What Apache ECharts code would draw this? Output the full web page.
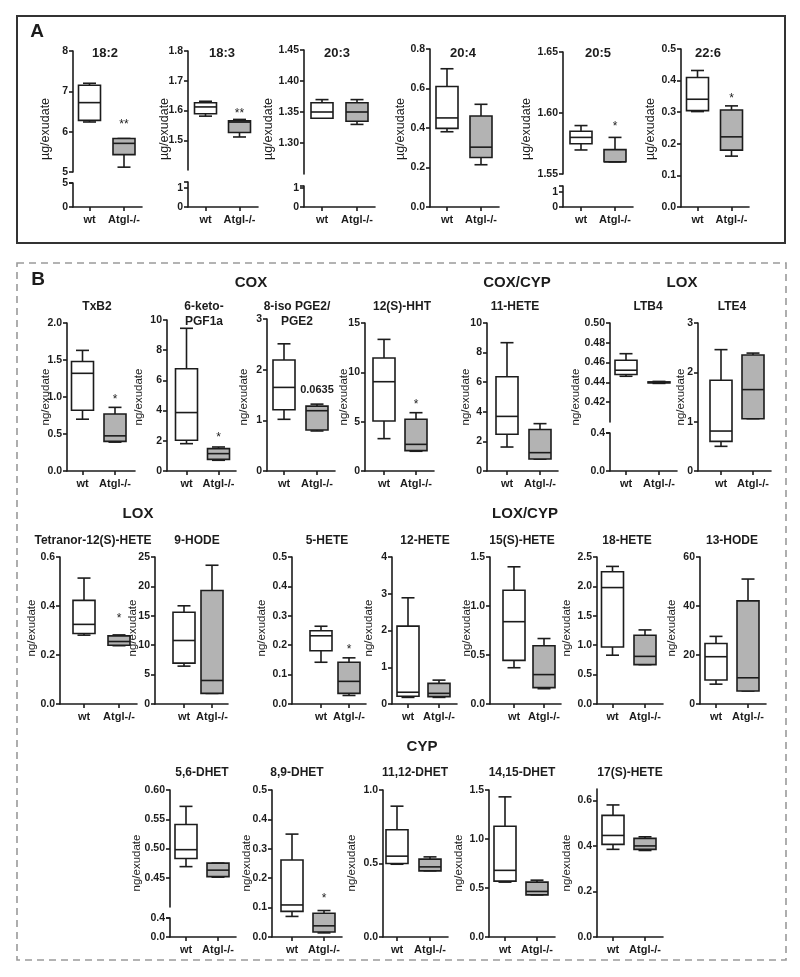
<!DOCTYPE html>
<html><head><meta charset="utf-8">
<script src="https://cdn.jsdelivr.net/npm/echarts@6/dist/echarts.min.js"></script>
<style>html,body{margin:0;padding:0;background:#fff}#c{width:800px;height:977px}</style>
</head><body><div id="c"></div>
<script>
// ---------------- DATA ----------------
const groups = ['wt', 'Atgl-/-'];
// box values: [min, Q1, median, Q3, max]

// Panel A (µg/exudate)
const titlesA = [['18:2'], ['18:3'], ['20:3'], ['20:4'], ['20:5'], ['22:6']];
const wtA = [
  [6.24, 6.28, 6.72, 7.15, 7.20],
  [1.581, 1.589, 1.612, 1.626, 1.631],
  [1.340, 1.340, 1.350, 1.365, 1.370],
  [0.381, 0.398, 0.451, 0.610, 0.700],
  [1.5697, 1.5748, 1.580, 1.585, 1.5897],
  [0.302, 0.305, 0.341, 0.410, 0.432]
];
const koA = [
  [5.12, 5.43, 5.71, 5.83, 5.83],
  [1.511, 1.526, 1.561, 1.565, 1.570],
  [1.330, 1.335, 1.350, 1.365, 1.370],
  [0.214, 0.251, 0.303, 0.461, 0.520],
  [1.560, 1.560, 1.560, 1.570, 1.580],
  [0.161, 0.180, 0.222, 0.307, 0.320]
];
const ticksA = [
  ['5', '6', '7', '8'],
  ['1.5', '1.6', '1.7', '1.8'],
  ['1.30', '1.35', '1.40', '1.45'],
  ['0.0', '0.2', '0.4', '0.6', '0.8'],
  ['1.55', '1.60', '1.65'],
  ['0.0', '0.1', '0.2', '0.3', '0.4', '0.5']
];
const lowTicksA = [['0', '5'], ['0', '1'], ['0', '1'], null, ['0', '1'], null];
const sigA = [['**', 6.24], ['**', 1.60], null, null, ['*', 1.591], ['*', 0.351]];

// Panel B, row 1 (ng/exudate)
const titlesB1 = [['TxB2'], ['6-keto-', 'PGF1a'], ['8-iso PGE2/', 'PGE2'], ['12(S)-HHT'], ['11-HETE'], ['LTB4'], ['LTE4']];
const wtB1 = [
  [0.70, 0.82, 1.32, 1.48, 1.63],
  [1.81, 2.04, 3.87, 6.77, 9.45],
  [1.02, 1.21, 1.65, 2.19, 2.51],
  [3.28, 5.07, 9.05, 11.45, 13.34],
  [1.62, 2.48, 3.69, 6.37, 8.67],
  [0.4462, 0.448, 0.4523, 0.4623, 0.469],
  [0.50, 0.60, 0.81, 1.84, 2.46]
];
const koB1 = [
  [0.39, 0.40, 0.475, 0.77, 0.86],
  [0.71, 0.77, 1.15, 1.48, 1.59],
  [0.79, 0.81, 1.19, 1.28, 1.32],
  [2.00, 2.06, 2.70, 5.24, 5.91],
  [0.80, 0.81, 1.24, 2.80, 3.20],
  [0.439, 0.4395, 0.440, 0.4405, 0.441],
  [1.06, 1.06, 1.65, 2.35, 2.39]
];
const ticksB1 = [
  ['0.0', '0.5', '1.0', '1.5', '2.0'],
  ['0', '2', '4', '6', '8', '10'],
  ['0', '1', '2', '3'],
  ['0', '5', '10', '15'],
  ['0', '2', '4', '6', '8', '10'],
  ['0.42', '0.44', '0.46', '0.48', '0.50'],
  ['0', '1', '2', '3']
];
const lowTicksB1 = [null, null, null, null, null, ['0.0', '0.4'], null];
const sigB1 = [['*', 1.01], ['*', 2.38], ['0.0635', 1.60], ['*', 7.0], null, null, null];

// Panel B, row 2
const titlesB2 = [['Tetranor-12(S)-HETE'], ['9-HODE'], ['5-HETE'], ['12-HETE'], ['15(S)-HETE'], ['18-HETE'], ['13-HODE']];
const wtB2 = [
  [0.281, 0.288, 0.325, 0.423, 0.514],
  [6.44, 6.95, 10.8, 15.6, 16.7],
  [0.142, 0.181, 0.232, 0.249, 0.2645],
  [0.18, 0.21, 0.32, 2.12, 2.89],
  [0.37, 0.445, 0.84, 1.16, 1.40],
  [0.83, 0.97, 1.98, 2.25, 2.34],
  [8.1, 9.8, 19.3, 24.7, 27.6]
];
const koB2 = [
  [0.238, 0.240, 0.255, 0.278, 0.282],
  [1.8, 1.8, 4.0, 19.3, 23.6],
  [0.029, 0.036, 0.077, 0.142, 0.157],
  [0.18, 0.20, 0.29, 0.56, 0.65],
  [0.156, 0.167, 0.30, 0.594, 0.668],
  [0.67, 0.67, 0.81, 1.17, 1.26],
  [5.3, 5.3, 10.7, 42.1, 51.0]
];
const ticksB2 = [
  ['0.0', '0.2', '0.4', '0.6'],
  ['0', '5', '10', '15', '20', '25'],
  ['0.0', '0.1', '0.2', '0.3', '0.4', '0.5'],
  ['0', '1', '2', '3', '4'],
  ['0.0', '0.5', '1.0', '1.5'],
  ['0.0', '0.5', '1.0', '1.5', '2.0', '2.5'],
  ['0', '20', '40', '60']
];
const lowTicksB2 = [null, null, null, null, null, null, null];
const sigB2 = [['*', 0.36], null, ['*', 0.194], null, null, null, null];

// Panel B, row 3
const titlesB3 = [['5,6-DHET'], ['8,9-DHET'], ['11,12-DHET'], ['14,15-DHET'], ['17(S)-HETE']];
const wtB3 = [
  [0.469, 0.483, 0.498, 0.541, 0.572],
  [0.070, 0.087, 0.109, 0.262, 0.350],
  [0.495, 0.500, 0.550, 0.730, 0.890],
  [0.56, 0.57, 0.68, 1.13, 1.43],
  [0.385, 0.407, 0.446, 0.534, 0.580]
];
const koB3 = [
  [0.451, 0.452, 0.463, 0.475, 0.475],
  [0.014, 0.017, 0.038, 0.081, 0.090],
  [0.450, 0.450, 0.477, 0.530, 0.545],
  [0.43, 0.43, 0.465, 0.56, 0.58],
  [0.380, 0.385, 0.400, 0.433, 0.440]
];
const ticksB3 = [
  ['0.45', '0.50', '0.55', '0.60'],
  ['0.0', '0.1', '0.2', '0.3', '0.4', '0.5'],
  ['0.0', '0.5', '1.0'],
  ['0.0', '0.5', '1.0', '1.5'],
  ['0.0', '0.2', '0.4', '0.6']
];
const lowTicksB3 = [['0.0', '0.4'], null, null, null, null];
const sigB3 = [null, ['*', 0.14], null, null, null];

const sections = [
  ['COX', 251, 283], ['COX/CYP', 517, 283], ['LOX', 682, 283],
  ['LOX', 138, 514], ['LOX/CYP', 525, 514], ['CYP', 422, 747]
];

// ---------------- LAYOUT (pixels) ----------------
// x: [axis x, wt centre, Atgl centre, axis end]; up/lo: [top px, bottom px, min, max]; yl: y-label x; tx: title x
const layA = [
  {x: [73, 89.5, 124, 142], up: [51, 172, 5, 8], lo: [183, 207, 0, 5], yl: 46, tx: 105},
  {x: [188, 205.5, 239.5, 258], up: [51, 170, 1.4, 1.8], lo: [182, 207, 0, 1.33], yl: 165, tx: 222},
  {x: [304, 322, 357, 375], up: [50, 174, 1.25, 1.45], lo: [186, 207, 0, 1.1], yl: 269, tx: 337},
  {x: [430, 447, 481, 499], up: [49, 207, 0, 0.8], lo: null, yl: 401, tx: 463},
  {x: [563, 581, 615, 633], up: [52, 174, 1.55, 1.65], lo: [186, 207, 0, 1.4], yl: 527, tx: 598},
  {x: [681, 697.5, 731.5, 749], up: [49, 207, 0, 0.5], lo: null, yl: 651, tx: 708}
];
const layB1 = [
  {x: [67, 82.5, 115, 135], up: [323, 471, 0, 2], yl: 46, tx: 97},
  {x: [167, 186.5, 218.5, 236], up: [320, 471, 0, 10], yl: 139, tx: 204},
  {x: [267, 284, 317, 335], up: [319, 471, 0, 3], yl: 244, tx: 297},
  {x: [365, 384, 416, 434], up: [323, 471, 0, 15], yl: 344, tx: 402},
  {x: [487, 507, 540, 558], up: [323, 471, 0, 10], yl: 466, tx: 515},
  {x: [610, 626, 659, 677], up: [323, 422, 0.40, 0.50], lo: [433, 471, 0, 0.4], yl: 576, tx: 648},
  {x: [698, 721, 753, 771], up: [323, 471, 0, 3], yl: 681, tx: 732}
];
const layB2 = [
  {x: [60, 84, 119, 137], up: [557, 704, 0, 0.6], yl: 32, tx: 93},
  {x: [155, 184, 212, 228], up: [557, 704, 0, 25], yl: 133, tx: 197},
  {x: [292, 321, 349, 366], up: [557, 704, 0, 0.5], yl: 262, tx: 327},
  {x: [392, 408, 439, 457], up: [557, 704, 0, 4], yl: 369, tx: 425},
  {x: [490, 514, 544, 561], up: [557, 704, 0, 1.5], yl: 467, tx: 522},
  {x: [597, 612.5, 645, 663], up: [557, 704, 0, 2.5], yl: 567, tx: 627},
  {x: [700, 716, 748, 766], up: [557, 704, 0, 60], yl: 672, tx: 732}
];
const layB3 = [
  {x: [170, 186, 218, 236], up: [790, 907, 0.40, 0.60], lo: [918, 937, 0, 0.4], yl: 137, tx: 202},
  {x: [272, 292, 324, 342], up: [790, 937, 0, 0.5], yl: 247, tx: 297},
  {x: [383, 397, 430, 448], up: [790, 937, 0, 1.0], yl: 352, tx: 415},
  {x: [489, 505, 537, 555], up: [790, 937, 0, 1.5], yl: 459, tx: 522},
  {x: [597, 613, 645, 663], up: [789, 937, 0, 0.65], yl: 567, tx: 630}
];

// ---------------- BUILD ----------------
const FF = "'Liberation Sans', Arial, Helvetica, sans-serif";
const INK = '#1c1c1c';
const option = {animation: false, grid: [], xAxis: [], yAxis: [], series: [], graphic: []};

function axisY(gi, min, max, labels, extra) {
  const vals = labels.map(Number);
  return {
    type: 'value', gridIndex: gi, min: min, max: max,
    axisLine: {show: true, onZero: false, lineStyle: {color: INK, width: 1.6}},
    axisTick: {show: true, length: 4, customValues: vals.concat(extra), lineStyle: {color: INK, width: 1.6}},
    axisLabel: {
      show: true, customValues: vals, margin: 5, color: INK, fontFamily: FF, fontWeight: 'bold', fontSize: 10.5,
      formatter: function (v) { const i = vals.findIndex(t => Math.abs(t - v) < 1e-9); return i >= 0 ? labels[i] : ''; }
    },
    splitLine: {show: false}
  };
}
function axisX(gi, min, max, show) {
  return {
    type: 'value', gridIndex: gi, min: min, max: max, show: show,
    axisLine: {show: true, onZero: false, lineStyle: {color: INK, width: 1.6}},
    axisTick: {show: true, length: 4, customValues: [0, 1], lineStyle: {color: INK, width: 1.6}},
    axisLabel: {
      show: true, customValues: [0, 1], margin: 7, color: INK, fontFamily: FF, fontWeight: 'bold', fontSize: 11,
      formatter: function (v) { return groups[Math.round(v)]; }
    },
    splitLine: {show: false}
  };
}
function boxRender(params, api) {
  const c = api.value(0);
  const p = [1, 2, 3, 4, 5].map(i => api.coord([c, api.value(i)]));
  const cx = p[0][0], hw = 11, cw = 6.5;
  const st = {stroke: INK, lineWidth: 1.6};
  const fill = c === 0 ? '#ffffff' : '#b3b3b3';
  return {type: 'group', children: [
    {type: 'line', shape: {x1: cx, y1: p[4][1], x2: cx, y2: p[3][1]}, style: st},
    {type: 'line', shape: {x1: cx, y1: p[0][1], x2: cx, y2: p[1][1]}, style: st},
    {type: 'line', shape: {x1: cx - cw, y1: p[4][1], x2: cx + cw, y2: p[4][1]}, style: st},
    {type: 'line', shape: {x1: cx - cw, y1: p[0][1], x2: cx + cw, y2: p[0][1]}, style: st},
    {type: 'rect', shape: {x: cx - hw, y: p[3][1], width: 2 * hw, height: p[1][1] - p[3][1]},
      style: {fill: fill, stroke: INK, lineWidth: 1.6}},
    {type: 'line', shape: {x1: cx - hw, y1: p[2][1], x2: cx + hw, y2: p[2][1]}, style: st}
  ]};
}
function text(t, x, y, size, weight, rot) {
  return {type: 'text', x: x, y: y, rotation: rot || 0, silent: true,
    style: {text: t, fill: INK, font: (weight || 'normal') + ' ' + size + 'px ' + FF,
      textAlign: 'center', textVerticalAlign: 'middle', align: 'center', verticalAlign: 'middle'}};
}

function addRow(titles, wt, ko, ticks, lowTicks, sig, lay, cfg) {
  lay.forEach(function (L, k) {
    const x0 = L.x[0], xw = L.x[1], xk = L.x[2], xe = L.x[3];
    const ppu = xk - xw;
    const xmin = -(xw - x0) / ppu, xmax = 1 + (xe - xk) / ppu;
    const gi = option.grid.length;
    const up = L.up;
    option.grid.push({left: x0, top: up[0], width: xe - x0, height: up[1] - up[0]});
    option.xAxis.push(axisX(gi, xmin, xmax, !L.lo));
    option.yAxis.push(axisY(gi, up[2], up[3], ticks[k], []));
    if (L.lo) {
      const lo = L.lo;
      option.grid.push({left: x0, top: lo[0], width: xe - x0, height: lo[1] - lo[0]});
      option.xAxis.push(axisX(gi + 1, xmin, xmax, true));
      option.yAxis.push(axisY(gi + 1, lo[2], lo[3], lowTicks[k], [lo[3]]));
    }
    option.series.push({type: 'custom', xAxisIndex: gi, yAxisIndex: gi, silent: true, clip: false,
      renderItem: boxRender, encode: {x: 0, y: [1, 2, 3, 4, 5]},
      data: [[0].concat(wt[k]), [1].concat(ko[k])]});
    const s = sig[k];
    if (s) {
      const isStar = s[0].indexOf('*') === 0;
      option.series.push({type: 'custom', xAxisIndex: gi, yAxisIndex: gi, silent: true, clip: false,
        encode: {x: 0, y: 1}, data: [[1, s[1]]],
        renderItem: function (prm, api) {
          const pt = api.coord([api.value(0), api.value(1)]);
          return {type: 'text', x: pt[0], y: pt[1] + (isStar ? 3 : 0),
            style: {text: s[0], fill: INK, font: (isStar ? 'normal 12px ' : 'bold 11px ') + FF,
              textAlign: 'center', textVerticalAlign: 'middle', align: 'center', verticalAlign: 'middle'}};
        }});
    }
    titles[k].forEach(function (line, j) {
      option.graphic.push(text(line, L.tx, cfg.ty + j * 15, cfg.tSize, 'bold'));
    });
    option.graphic.push(text(cfg.yText, L.yl, cfg.ylY, cfg.ySize, 'normal', Math.PI / 2));
  });
}

// frames and labels
option.graphic.push({type: 'rect', silent: true, shape: {x: 17, y: 16, width: 768, height: 227},
  style: {fill: 'none', stroke: '#333', lineWidth: 2}});
option.graphic.push({type: 'rect', silent: true, shape: {x: 17, y: 263, width: 769, height: 697},
  style: {fill: 'none', stroke: '#9a9a9a', lineWidth: 1.6, lineDash: [7, 5]}});
option.graphic.push(text('A', 37, 32, 19, 'bold'));
option.graphic.push(text('B', 38, 280, 19, 'bold'));
sections.forEach(s => option.graphic.push(text(s[0], s[1], s[2], 15, 'bold')));

addRow(titlesA, wtA, koA, ticksA, lowTicksA, sigA, layA, {ty: 53, tSize: 13, yText: 'µg/exudate', ylY: 129, ySize: 12.5});
addRow(titlesB1, wtB1, koB1, ticksB1, lowTicksB1, sigB1, layB1, {ty: 307, tSize: 12, yText: 'ng/exudate', ylY: 397, ySize: 11.5});
addRow(titlesB2, wtB2, koB2, ticksB2, lowTicksB2, sigB2, layB2, {ty: 541, tSize: 12, yText: 'ng/exudate', ylY: 628, ySize: 11.5});
addRow(titlesB3, wtB3, koB3, ticksB3, lowTicksB3, sigB3, layB3, {ty: 773, tSize: 12, yText: 'ng/exudate', ylY: 863, ySize: 11.5});

const chart = echarts.init(document.getElementById('c'), null, {renderer: 'canvas'});
chart.setOption(option);
</script>
</body></html>
